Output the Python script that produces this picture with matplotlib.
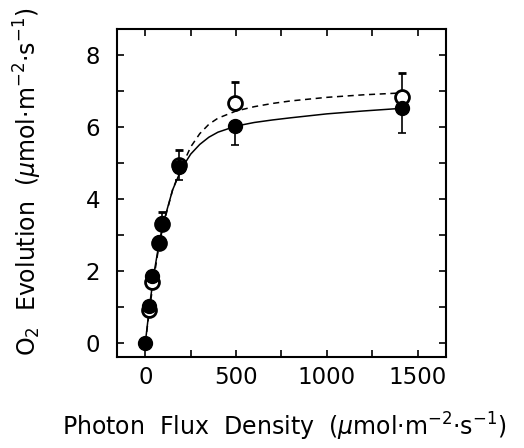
import matplotlib.pyplot as plt

# measured points (photon flux density, O2 evolution)
pfd_filled = [0, 21, 34, 76, 91, 186, 493, 1412]
o2_filled = [0, 1.02, 1.86, 2.81, 3.32, 4.90, 6.02, 6.53]
err_filled_lo = [0, 0, 0, 0, 0, 0.37, 0.52, 0.70]

pfd_open = [21, 34, 76, 91, 186, 493, 1412]
o2_open = [0.91, 1.70, 2.78, 3.30, 4.95, 6.67, 6.85]
err_open_hi = [0, 0, 0, 0.33, 0.40, 0.60, 0.65]

# fitted curves
fit_x = [0, 25, 50, 75, 100, 150, 200, 250, 300, 350, 400, 500, 600, 700, 800, 1000, 1200, 1400]
fit_solid = [0, 1.1, 2.0, 2.75, 3.35, 4.25, 4.85, 5.25, 5.52, 5.72, 5.86, 6.03, 6.13, 6.2, 6.26, 6.37, 6.45, 6.52]
fit_dashed = [0, 1.0, 1.9, 2.7, 3.3, 4.25, 4.9, 5.45, 5.82, 6.08, 6.25, 6.45, 6.57, 6.66, 6.73, 6.83, 6.9, 6.95]

plt.rcParams['font.family'] = 'DejaVu Sans'
fig = plt.figure(figsize=(5.24, 4.48), dpi=100)
ax = fig.add_axes([0.223, 0.204, 0.628, 0.731])

ax.plot(fit_x, fit_dashed, color='black', lw=1.1, ls=(0, (4, 3)))
ax.plot(fit_x, fit_solid, color='black', lw=1.1)

ax.errorbar(pfd_open, o2_open, yerr=[[0] * len(err_open_hi), err_open_hi],
            fmt='o', ms=10, mfc='white', mec='black', mew=2, ecolor='black',
            elinewidth=1.2, capsize=3, capthick=1.2, zorder=3)
ax.errorbar(pfd_filled, o2_filled, yerr=[err_filled_lo, [0] * len(err_filled_lo)],
            fmt='o', ms=10, mfc='black', mec='black', ecolor='black',
            elinewidth=1.2, capsize=3, capthick=1.2, zorder=4)

ax.set_xlim(-157, 1656)
ax.set_ylim(-0.39, 8.73)
ax.set_xticks([0, 500, 1000, 1500])
ax.set_xticks([250, 750, 1250], minor=True)
ax.set_yticks([0, 2, 4, 6, 8])
ax.set_yticks([1, 3, 5, 7], minor=True)
ax.tick_params(which='both', direction='in', top=True, right=True,
               length=5, width=1.2)
ax.tick_params(axis='x', labelsize=16.5, pad=7)
ax.tick_params(axis='y', labelsize=16.5, pad=12)
for s in ax.spines.values():
    s.set_linewidth(1.5)

ax.set_xlabel('Photon  Flux  Density  ($\\mu$mol$\\cdot$m$^{-2}$$\\cdot$s$^{-1}$)', fontsize=17)
ax.set_ylabel('O$_2$  Evolution  ($\\mu$mol$\\cdot$m$^{-2}$$\\cdot$s$^{-1}$)', fontsize=17)
ax.xaxis.set_label_coords(0.51, -0.166)
ax.yaxis.set_label_coords(-0.222, 0.535)

fig.savefig('out.png', dpi=100)
